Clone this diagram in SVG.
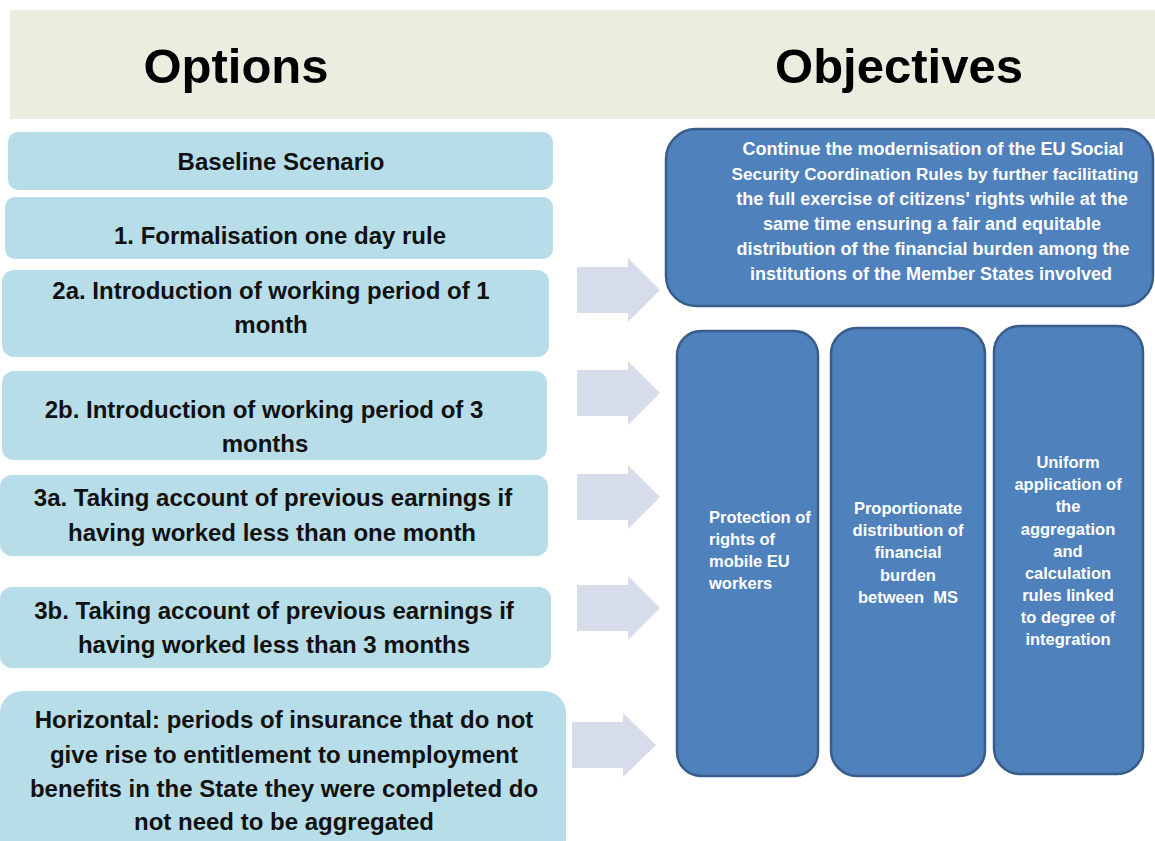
<svg xmlns="http://www.w3.org/2000/svg" width="1155" height="841" viewBox="0 0 1155 841">
<style>
.opt{fill:#B7DDE8;}
.obj{fill:#4F81BD;stroke:#385D8A;stroke-width:2.5;}
.arr{fill:#D6DCE9;}
.hd{font-family:"Liberation Sans",Arial,sans-serif;font-weight:bold;font-size:49px;fill:#000;text-anchor:middle;}
.lt{font-family:"Liberation Sans",Arial,sans-serif;font-weight:bold;font-size:24px;fill:#111;text-anchor:middle;}
.tt{font-family:"Liberation Sans",Arial,sans-serif;font-weight:bold;font-size:18px;fill:#fff;text-anchor:middle;}
.st{font-family:"Liberation Sans",Arial,sans-serif;font-weight:bold;font-size:16.5px;fill:#fff;}
</style>
<rect width="1155" height="841" fill="#fff"/>
<g id="header">
<rect x="10" y="10" width="1145" height="109" fill="#EBEEDF"/>
<text class="hd" x="236" y="83">Options</text>
<text class="hd" x="899" y="83">Objectives</text>
</g>
<g id="opt-baseline">
<rect class="opt" x="8" y="132" width="545" height="58" rx="10"/>
<text class="lt" x="281" y="170">Baseline Scenario</text>
</g>
<g id="opt-1">
<rect class="opt" x="5" y="197" width="548" height="62" rx="10"/>
<text class="lt" x="280" y="244">1. Formalisation one day rule</text>
</g>
<g id="opt-2a">
<rect class="opt" x="2" y="270" width="547" height="87" rx="12"/>
<text class="lt" x="271" y="299">2a. Introduction of working period of 1</text>
<text class="lt" x="271" y="333">month</text>
</g>
<g id="opt-2b">
<rect class="opt" x="2" y="371" width="545" height="89" rx="12"/>
<text class="lt" x="264" y="418">2b. Introduction of working period of 3</text>
<text class="lt" x="265" y="452">months</text>
</g>
<g id="opt-3a">
<rect class="opt" x="0" y="475" width="548" height="81" rx="12"/>
<text class="lt" x="273" y="506">3a. Taking account of previous earnings if</text>
<text class="lt" x="272" y="541">having worked less than one month</text>
</g>
<g id="opt-3b">
<rect class="opt" x="0" y="587" width="551" height="81" rx="12"/>
<text class="lt" x="274" y="619">3b. Taking account of previous earnings if</text>
<text class="lt" x="274" y="653">having worked less than 3 months</text>
</g>
<g id="opt-horizontal">
<rect class="opt" x="0" y="691" width="566" height="170" rx="22"/>
<text class="lt" x="284" y="728">Horizontal: periods of insurance that do not</text>
<text class="lt" x="284" y="763">give rise to entitlement to unemployment</text>
<text class="lt" x="284" y="797">benefits in the State they were completed do</text>
<text class="lt" x="284" y="830">not need to be aggregated</text>
</g>
<g id="connectors">
<polygon class="arr" points="577,267 628,267 628,258 660,290 628,322 628,313 577,313"/>
<polygon class="arr" points="577,370 628,370 628,361 660,393 628,425 628,416 577,416"/>
<polygon class="arr" points="577,474 628,474 628,465 660,497 628,529 628,520 577,520"/>
<polygon class="arr" points="577,585 628,585 628,576 660,608 628,640 628,631 577,631"/>
<polygon class="arr" points="572,722 623,722 623,713 656,745 623,777 623,768 572,768"/>
</g>
<g id="obj-main">
<rect class="obj" x="666" y="129" width="487" height="177" rx="30"/>
<text class="tt" x="933" y="155">Continue the modernisation of the EU Social</text>
<text class="tt" x="935" y="180" style="font-size:17.2px">Security Coordination Rules by further facilitating</text>
<text class="tt" x="932" y="205">the full exercise of citizens' rights while at the</text>
<text class="tt" x="932" y="230">same time ensuring a fair and equitable</text>
<text class="tt" x="933" y="255">distribution of the financial burden among the</text>
<text class="tt" x="931" y="280">institutions of the Member States involved</text>
</g>
<g id="obj-protection">
<rect class="obj" x="677" y="331" width="141" height="445" rx="24"/>
<text class="st" x="709" y="523">Protection of</text>
<text class="st" x="709" y="545">rights of</text>
<text class="st" x="709" y="567">mobile EU</text>
<text class="st" x="709" y="589">workers</text>
</g>
<g id="obj-proportionate">
<rect class="obj" x="831" y="328" width="154" height="448" rx="26"/>
<text class="st" x="908" y="514" text-anchor="middle">Proportionate</text>
<text class="st" x="908" y="536" text-anchor="middle">distribution of</text>
<text class="st" x="908" y="558" text-anchor="middle">financial</text>
<text class="st" x="908" y="581" text-anchor="middle">burden</text>
<text class="st" x="908" y="603" text-anchor="middle">between&#160; MS</text>
</g>
<g id="obj-uniform">
<rect class="obj" x="994" y="326" width="149" height="448" rx="26"/>
<text class="st" x="1068" y="468" text-anchor="middle">Uniform</text>
<text class="st" x="1068" y="490" text-anchor="middle">application of</text>
<text class="st" x="1068" y="512" text-anchor="middle">the</text>
<text class="st" x="1068" y="535" text-anchor="middle">aggregation</text>
<text class="st" x="1068" y="557" text-anchor="middle">and</text>
<text class="st" x="1068" y="579" text-anchor="middle">calculation</text>
<text class="st" x="1068" y="601" text-anchor="middle">rules linked</text>
<text class="st" x="1068" y="623" text-anchor="middle">to degree of</text>
<text class="st" x="1068" y="645" text-anchor="middle">integration</text>
</g>
</svg>
